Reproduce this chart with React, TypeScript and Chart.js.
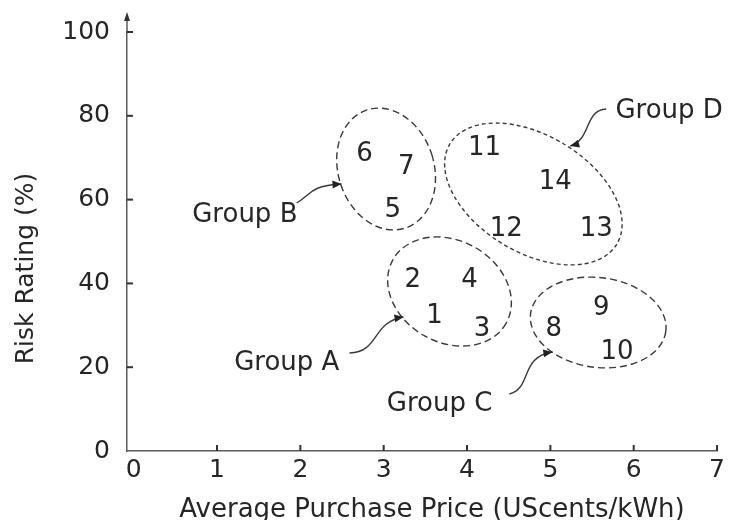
import React, { useEffect, useRef } from 'react';
import { Chart, registerables } from 'chart.js';

Chart.register(...registerables);

// ---- data ----
const pointIds = ['1', '2', '3', '4', '5', '6', '7', '8', '9', '10', '11', '12', '13', '14'];
const priceValues = [3.61, 3.35, 4.18, 4.03, 3.11, 2.77, 3.27, 5.04, 5.61, 5.8, 4.21, 4.47, 5.55, 5.06];
const riskValues = [32.9, 41.3, 29.6, 41.3, 58.2, 71.4, 68.3, 29.6, 34.8, 24.1, 73.0, 53.5, 53.5, 64.9];
const xTickValues = [0, 1, 2, 3, 4, 5, 6, 7];
const yTickValues = [0, 20, 40, 60, 80, 100];
const groupNames = ['Group A', 'Group B', 'Group C', 'Group D'];
const xTitle = 'Average Purchase Price (UScents/kWh)';
const yTitle = 'Risk Rating (%)';

// group annotations (data coordinates)
const groupLabelX = [1.837, 1.334, 3.67, 6.425];
const groupLabelY = [21.48, 56.8, 11.69, 81.62];
const groupCenterX = [3.79, 3.029, 5.574, 4.796];
const groupCenterY = [38.07, 67.3, 30.67, 61.34];
const groupRadiusA = [0.779, 0.575, 0.818, 1.168];
const groupRadiusB = [0.611, 0.745, 0.539, 0.703];
const groupTilt = [0.51, -0.31, 0.13, 0.54];
const arrowX = [
  [2.591, 2.951, 2.855, 3.238],
  [1.956, 2.136, 2.088, 2.494],
  [4.508, 4.784, 4.628, 5.024],
  [5.67, 5.406, 5.49, 5.239],
];
const arrowY = [
  [23.39, 23.63, 30.79, 31.98],
  [59.19, 61.1, 63.25, 63.72],
  [13.6, 15.04, 22.43, 23.63],
  [81.62, 81.38, 74.22, 72.79],
];

const FONT = '"DejaVu Sans", sans-serif';
const TEXT = '#262626';
const LINE = '#3a3a3a';
const AXIS = '#5a5a5a';

function capText(ctx: CanvasRenderingContext2D, s: string, x: number, y: number, size: number) {
  ctx.font = `${size}px ${FONT}`;
  ctx.textAlign = 'center';
  ctx.textBaseline = 'alphabetic';
  ctx.fillText(s, x, y + size * 0.3645);
}

const overlay = {
  id: 'overlay',
  afterDraw(chart: any) {
    const { ctx, chartArea } = chart;
    const xs = chart.scales.x;
    const ys = chart.scales.y;
    const px = (v: number) => xs.getPixelForValue(v);
    const py = (v: number) => ys.getPixelForValue(v);
    const unit = px(1) - px(0);
    ctx.save();

    // y axis extension and arrow
    ctx.strokeStyle = AXIS;
    ctx.lineWidth = 1.5;
    ctx.beginPath();
    ctx.moveTo(chartArea.left, chartArea.top);
    ctx.lineTo(chartArea.left, chartArea.top - 15);
    ctx.stroke();
    ctx.fillStyle = '#333';
    ctx.beginPath();
    ctx.moveTo(chartArea.left, chartArea.top - 20);
    ctx.lineTo(chartArea.left - 3, chartArea.top - 11);
    ctx.lineTo(chartArea.left + 3, chartArea.top - 11);
    ctx.closePath();
    ctx.fill();

    // inward ticks
    ctx.lineWidth = 2;
    ctx.strokeStyle = '#333';
    yTickValues.forEach((v) => {
      if (v === 0) return;
      const yy = py(v);
      ctx.beginPath();
      ctx.moveTo(chartArea.left, yy);
      ctx.lineTo(chartArea.left + 6, yy);
      ctx.stroke();
    });
    xTickValues.forEach((v) => {
      if (v === 0) return;
      const xx = px(v);
      ctx.beginPath();
      ctx.moveTo(xx, chartArea.bottom);
      ctx.lineTo(xx, chartArea.bottom - 6);
      ctx.stroke();
    });

    // point labels
    ctx.fillStyle = TEXT;
    const meta = chart.getDatasetMeta(0);
    meta.data.forEach((el: any, i: number) => {
      capText(ctx, pointIds[i], el.x, el.y, 26);
    });

    // ellipses
    ctx.strokeStyle = LINE;
    ctx.lineWidth = 1.4;
    groupNames.forEach((_, i) => {
      ctx.setLineDash(i === 3 ? [4, 3] : [7, 4]);
      ctx.beginPath();
      ctx.ellipse(
        px(groupCenterX[i]),
        py(groupCenterY[i]),
        groupRadiusA[i] * unit,
        groupRadiusB[i] * unit,
        groupTilt[i],
        0,
        Math.PI * 2
      );
      ctx.stroke();
    });
    ctx.setLineDash([]);

    // arrows
    ctx.lineWidth = 1.4;
    groupNames.forEach((_, i) => {
      const X = arrowX[i].map(px);
      const Y = arrowY[i].map(py);
      ctx.beginPath();
      ctx.moveTo(X[0], Y[0]);
      ctx.bezierCurveTo(X[1], Y[1], X[2], Y[2], X[3], Y[3]);
      ctx.stroke();
      const ang = Math.atan2(Y[3] - Y[2], X[3] - X[2]);
      const L = 9;
      const W = 4;
      ctx.fillStyle = '#222';
      ctx.beginPath();
      ctx.moveTo(X[3], Y[3]);
      ctx.lineTo(X[3] - L * Math.cos(ang) + W * Math.sin(ang), Y[3] - L * Math.sin(ang) - W * Math.cos(ang));
      ctx.lineTo(X[3] - L * Math.cos(ang) - W * Math.sin(ang), Y[3] - L * Math.sin(ang) + W * Math.cos(ang));
      ctx.closePath();
      ctx.fill();
    });

    // group labels
    ctx.fillStyle = TEXT;
    groupNames.forEach((g, i) => {
      capText(ctx, g, px(groupLabelX[i]), py(groupLabelY[i]), 26);
    });

    // axis titles
    ctx.fillStyle = TEXT;
    ctx.font = `26px ${FONT}`;
    ctx.textAlign = 'center';
    ctx.textBaseline = 'alphabetic';
    ctx.fillText(xTitle, (chartArea.left + chartArea.right) / 2 + 10, 517);
    ctx.save();
    ctx.translate(33, (chartArea.top + chartArea.bottom) / 2 + 27);
    ctx.rotate(-Math.PI / 2);
    ctx.font = `25px ${FONT}`;
    ctx.fillText(yTitle, 0, 0);
    ctx.restore();

    ctx.restore();
  },
};

export default function App() {
  const ref = useRef<HTMLCanvasElement | null>(null);
  useEffect(() => {
    if (!ref.current) return;
    const chart = new Chart(ref.current, {
      type: 'scatter',
      data: {
        datasets: [
          {
            data: priceValues.map((v, i) => ({ x: v, y: riskValues[i] })),
            pointRadius: 0,
            pointHoverRadius: 0,
            showLine: false,
          },
        ],
      },
      options: {
        animation: false,
        responsive: false,
        devicePixelRatio: 1,
        layout: { padding: { top: 32, right: 11, left: 0, bottom: 0 } },
        plugins: { legend: { display: false }, tooltip: { enabled: false } },
        scales: {
          x: {
            type: 'linear',
            min: -0.08,
            max: 7,
            afterBuildTicks: (scale: any) => {
              scale.ticks = xTickValues.map((v) => ({ value: v }));
            },
            afterFit: (scale: any) => {
              scale.height = 69;
            },
            grid: { display: false, drawTicks: false },
            border: { display: true, color: AXIS, width: 1.5 },
            ticks: {
              padding: 4,
              color: TEXT,
              font: { size: 25, family: FONT },
              maxRotation: 0,
              autoSkip: false,
            },
            title: { display: false },
          },
          y: {
            type: 'linear',
            min: 0,
            max: 100,
            afterBuildTicks: (scale: any) => {
              scale.ticks = yTickValues.map((v) => ({ value: v }));
            },
            afterFit: (scale: any) => {
              scale.width = 127;
            },
            grid: { display: false, drawTicks: false },
            border: { display: true, color: AXIS, width: 1.5 },
            ticks: {
              padding: 17,
              color: TEXT,
              font: { size: 25, family: FONT },
              autoSkip: false,
            },
            title: { display: false },
          },
        },
      },
      plugins: [overlay],
    });
    return () => chart.destroy();
  }, []);
  return (
    <div style={{ position: 'absolute', left: 0, top: 0, width: 729, height: 520, background: '#fff' }}>
      <canvas ref={ref} width={729} height={520} style={{ display: 'block' }} />
    </div>
  );
}
